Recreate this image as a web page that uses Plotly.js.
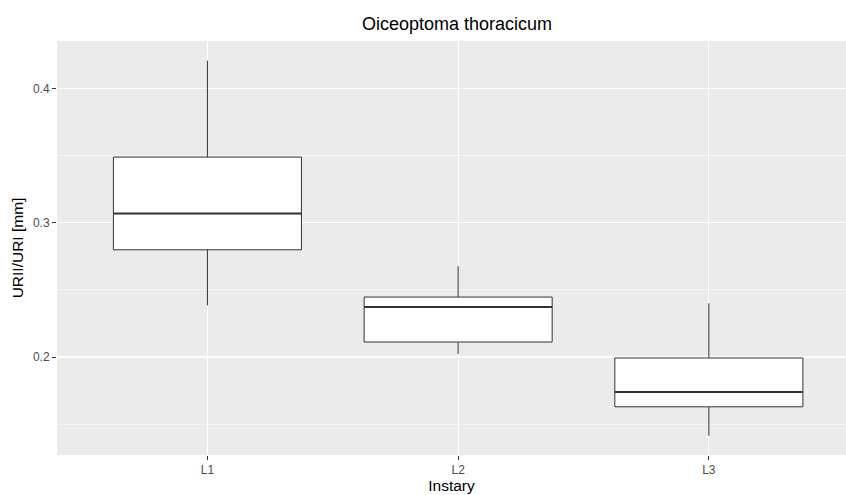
<!DOCTYPE html>
<html>
<head>
<meta charset="utf-8">
<script src="https://cdn.plot.ly/plotly-3.0.1.min.js"></script>
<style>html,body{margin:0;padding:0;background:#fff;}#chart{width:846px;height:495px;}</style>
</head>
<body>
<div id="chart"></div>
<script>
const categories = ["L1", "L2", "L3"];
const lowerWhisker = [0.2385, 0.2023, 0.1413];
const q1 = [0.2799, 0.2112, 0.1629];
const median = [0.3069, 0.2372, 0.1740];
const q3 = [0.3490, 0.2447, 0.1993];
const upperWhisker = [0.4209, 0.2677, 0.2400];
const yTicks = [0.2, 0.3, 0.4];
const yMinorTicks = [0.15, 0.25, 0.35];

const boxW = 0.75;
const positions = categories.map((c, i) => i);

const traces = [{
  type: 'box',
  x: positions,
  q1: q1,
  median: median,
  q3: q3,
  lowerfence: lowerWhisker,
  upperfence: upperWhisker,
  width: boxW,
  whiskerwidth: 0,
  fillcolor: '#FFFFFF',
  line: {color: '#333333', width: 1},
  boxpoints: false,
  hoverinfo: 'skip',
  showlegend: false
}];
positions.forEach((p, i) => {
  traces.push({
    type: 'scatter', mode: 'lines',
    x: [p - boxW / 2, p + boxW / 2],
    y: [median[i], median[i]],
    line: {color: '#333333', width: 2},
    hoverinfo: 'skip', showlegend: false
  });
});

const layout = {
  width: 846, height: 495,
  margin: {l: 57, r: 0, t: 41, b: 40},
  paper_bgcolor: '#FFFFFF',
  plot_bgcolor: '#EBEBEB',
  font: {family: 'Liberation Sans, Arial, sans-serif'},
  title: {
    text: 'Oiceoptoma thoracicum',
    font: {size: 18, color: '#000000'},
    x: 457 / 846, xref: 'container', xanchor: 'center',
    y: 1 - 24 / 495, yref: 'container', yanchor: 'middle'
  },
  xaxis: {
    range: [-0.6, 2.547],
    tickvals: positions,
    ticktext: categories,
    showgrid: true, gridcolor: '#FFFFFF', gridwidth: 1.1,
    zeroline: false, showline: false,
    ticks: 'outside', ticklen: 4, tickcolor: '#333333', tickwidth: 1,
    tickfont: {size: 12, color: '#4D4D4D'},
    title: {text: 'Instary', font: {size: 15.5, color: '#000000'}, standoff: 3}
  },
  yaxis: {
    range: [0.127, 0.4355],
    tickvals: yTicks,
    ticktext: yTicks.map(v => v.toFixed(1)),
    showgrid: true, gridcolor: '#FFFFFF', gridwidth: 1.1,
    minor: {tickvals: yMinorTicks, showgrid: true, gridcolor: '#FFFFFF', gridwidth: 0.5, ticks: ''},
    zeroline: false, showline: false,
    ticks: 'outside', ticklen: 4, tickcolor: '#333333', tickwidth: 1,
    tickfont: {size: 12, color: '#4D4D4D'},
    title: {text: 'URII/URI [mm]', font: {size: 15.5, color: '#000000'}, standoff: 5}
  }
};

Plotly.newPlot('chart', traces, layout, {displayModeBar: false, staticPlot: true});
</script>
</body>
</html>
